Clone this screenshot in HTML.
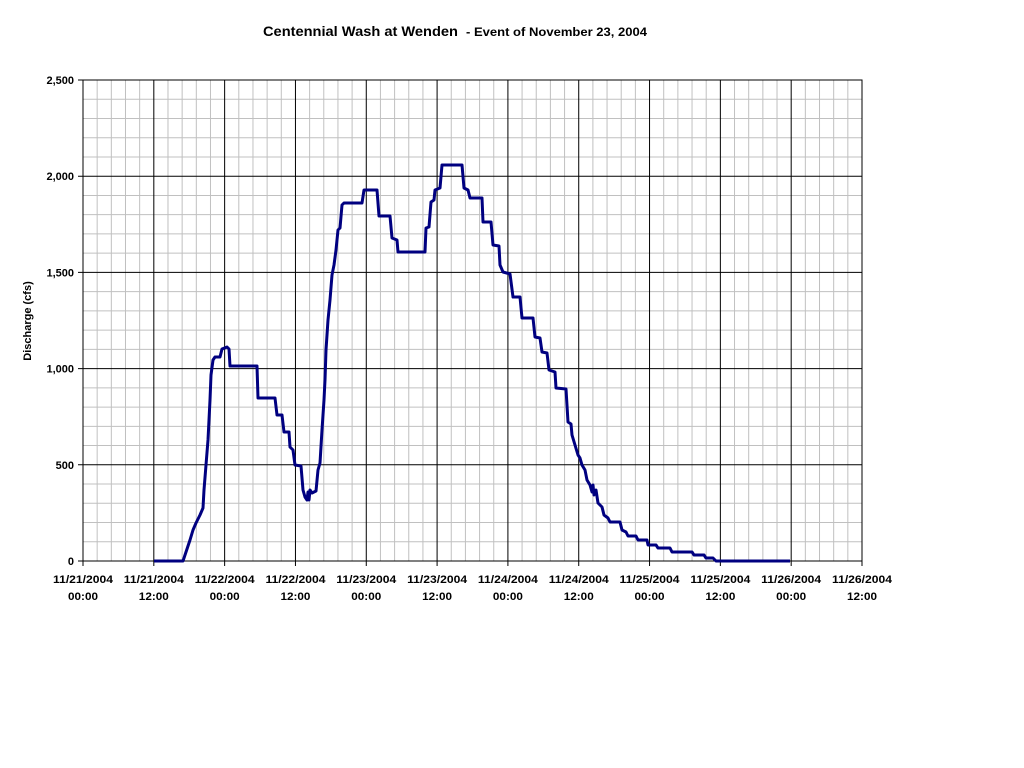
<!DOCTYPE html>
<html><head><style>body{margin:0;background:#fff}svg{display:block}text{font-family:"Liberation Sans",Arial,sans-serif;font-weight:bold;fill:#000}</style></head><body>
<svg width="1024" height="768" xmlns="http://www.w3.org/2000/svg">
<g id="g"></g>
<text x="263" y="36" font-size="14" textLength="195" lengthAdjust="spacingAndGlyphs">Centennial Wash at Wenden</text>
<text x="466" y="36" font-size="12" textLength="181" lengthAdjust="spacingAndGlyphs">- Event of November 23, 2004</text>
<text transform="translate(31,321) rotate(-90)" font-size="11" text-anchor="middle">Discharge (cfs)</text>
<polyline fill="none" stroke="#000080" stroke-width="3" stroke-linejoin="round" points="154,561 183,561 186,552 190,540 193,530 196,523 200,515 203,508 204,490 206,465 208,440 210,400 211,375 213,360 215,357 220,357 222,349 227,347 229,349 230,366 257,366 258,398 275,398 277,415 282,415 284,432 289,432 290,447 293,450 295,465 301,466 303,490 305,497 307,500 308,492 309,500 310,490 312,493 316,491 318,470 320,463 322,430 324,400 325,380 326,350 328,320 330,300 332,275 334,265 336,250 338,230 340,228 342,205 344,203 362,203 364,190 377,190 379,216 390,216 392,238 397,240 398,252 425,252 426,228 429,227 431,202 434,200 435,190 440,188 442,165 462,165 464,188 468,190 470,198 482,198 483,222 491,222 493,245 499,246 500,265 503,272 510,274 513,297 520,297 522,318 533,318 535,337 540,338 542,352 547,353 549,370 555,372 556,388 566,389 568,422 571,424 572,435 575,445 578,455 580,458 582,465 585,470 587,480 590,485 592,492 593,485 594,495 596,490 598,503 602,507 604,515 608,518 610,522 620,522 622,530 626,532 628,536 636,536 638,540 647,540 648,545 656,545 658,548 670,548 672,552 692,552 694,555 704,555 706,558 713,558 716,561 790,561"/>
</svg>
<script>
var g=document.getElementById('g'),s='',L=83,R=862,T=80,B=561,dx=(R-L)/11;
for(var i=0;i<=55;i++){var x=L+i*(R-L)/55;if(i%5)s+='<line x1="'+x+'" y1="'+T+'" x2="'+x+'" y2="'+B+'" stroke="#c0c0c0"/>';}
for(var j=0;j<=25;j++){var y=B-j*(B-T)/25;if(j%5)s+='<line x1="'+L+'" y1="'+y+'" x2="'+R+'" y2="'+y+'" stroke="#c0c0c0"/>';}
for(var i=0;i<=11;i++){var x=L+i*dx;s+='<line x1="'+x+'" y1="'+T+'" x2="'+x+'" y2="'+(B+5)+'" stroke="#000"/>';}
for(var j=0;j<=5;j++){var y=B-j*(B-T)/5;s+='<line x1="'+(L-5)+'" y1="'+y+'" x2="'+R+'" y2="'+y+'" stroke="#000"/>';
s+='<text x="'+(L-9)+'" y="'+(y+4)+'" font-size="11" text-anchor="end">'+['0','500','1,000','1,500','2,000','2,500'][j]+'</text>';}
var d=['11/21/2004','11/21/2004','11/22/2004','11/22/2004','11/23/2004','11/23/2004','11/24/2004','11/24/2004','11/25/2004','11/25/2004','11/26/2004','11/26/2004'];
for(var i=0;i<=11;i++){var x=L+i*dx;s+='<text x="'+(x-30)+'" y="583" font-size="11" textLength="60" lengthAdjust="spacingAndGlyphs">'+d[i]+'</text><text x="'+(x-15)+'" y="600" font-size="11" textLength="30" lengthAdjust="spacingAndGlyphs">'+(i%2?'12:00':'00:00')+'</text>';}
s+='<rect x="'+L+'" y="'+T+'" width="'+(R-L)+'" height="'+(B-T)+'" fill="none" stroke="#000"/>';
g.innerHTML=s;
</script>
</body></html>
